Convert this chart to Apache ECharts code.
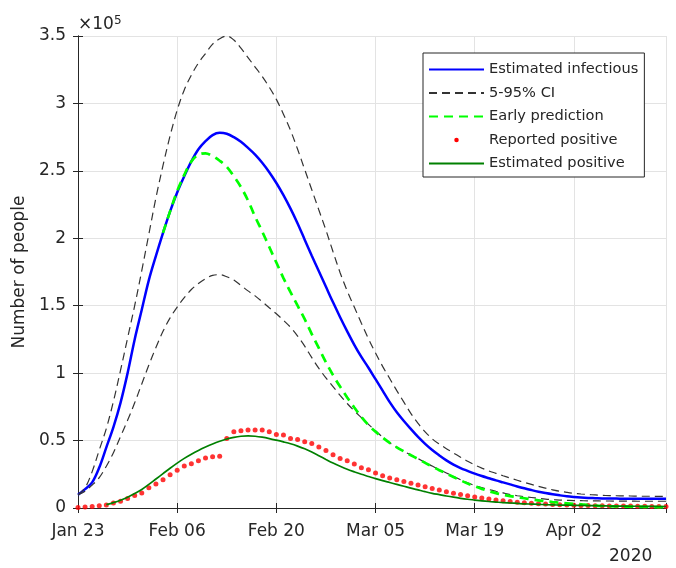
<!DOCTYPE html>
<html>
<head>
<meta charset="utf-8">
<script src="https://cdn.jsdelivr.net/npm/echarts@6/dist/echarts.min.js"></script>
<style>
  html, body { margin: 0; padding: 0; background: #fff; }
  #chart { width: 676px; height: 568px; }
</style>
</head>
<body>
<div id="chart"></div>
<script>
// Daily values from Jan 23, 2020 (day 0) to Apr 15, 2020 (day 83), in units of 1e5 people.
const tickLabels = ['Jan 23', 'Feb 06', 'Feb 20', 'Mar 05', 'Mar 19', 'Apr 02'];
const yearLabel = '2020';
const seriesNames = ['Estimated infectious', '5-95% CI', 'Early prediction', 'Reported positive', 'Estimated positive'];

const infectious = [
  0.098, 0.14, 0.19, 0.30, 0.45, 0.60, 0.78, 1.00, 1.25, 1.47,
  1.69, 1.87, 2.04, 2.20, 2.34, 2.46, 2.57, 2.66, 2.72, 2.765,
  2.782, 2.775, 2.75, 2.715, 2.67, 2.62, 2.56, 2.49, 2.41, 2.32,
  2.22, 2.11, 1.99, 1.87, 1.755, 1.64, 1.525, 1.415, 1.31, 1.21,
  1.12, 1.04, 0.955, 0.87, 0.785, 0.71, 0.645, 0.585, 0.527, 0.476,
  0.43, 0.39, 0.353, 0.322, 0.296, 0.275, 0.255, 0.237, 0.221, 0.205,
  0.19, 0.175, 0.16, 0.146, 0.133, 0.121, 0.111, 0.102, 0.094, 0.087,
  0.082, 0.078, 0.075, 0.073, 0.071, 0.070, 0.070, 0.069, 0.069, 0.069,
  0.069, 0.069, 0.069, 0.069
];

const ciUpper = [
  0.098, 0.15, 0.27, 0.43, 0.59, 0.79, 1.02, 1.26, 1.50, 1.76,
  2.03, 2.30, 2.54, 2.76, 2.95, 3.10, 3.21, 3.30, 3.37, 3.44,
  3.48, 3.50, 3.47, 3.41, 3.34, 3.27, 3.20, 3.12, 3.03, 2.92,
  2.80, 2.66, 2.51, 2.36, 2.21, 2.06, 1.90, 1.745, 1.61, 1.49,
  1.37, 1.255, 1.15, 1.05, 0.96, 0.87, 0.785, 0.70, 0.627, 0.565,
  0.513, 0.474, 0.44, 0.408, 0.377, 0.347, 0.32, 0.296, 0.275, 0.257,
  0.239, 0.222, 0.206, 0.19, 0.175, 0.16, 0.147, 0.135, 0.124, 0.116,
  0.109, 0.104, 0.10, 0.097, 0.094, 0.092, 0.091, 0.09, 0.089, 0.088,
  0.087, 0.087, 0.086, 0.086
];

const ciLower = [
  0.098, 0.125, 0.17, 0.225, 0.31, 0.41, 0.53, 0.65, 0.78, 0.92,
  1.06, 1.19, 1.31, 1.41, 1.49, 1.56, 1.62, 1.665, 1.70, 1.725,
  1.73, 1.715, 1.69, 1.65, 1.61, 1.573, 1.53, 1.485, 1.44, 1.392,
  1.34, 1.275, 1.20, 1.115, 1.035, 0.965, 0.90, 0.835, 0.775, 0.72,
  0.67, 0.62, 0.573, 0.525, 0.483, 0.45, 0.42, 0.393, 0.366, 0.339,
  0.311, 0.285, 0.26, 0.235, 0.21, 0.187, 0.167, 0.151, 0.137, 0.124,
  0.112, 0.10, 0.091, 0.084, 0.078, 0.072, 0.066, 0.062, 0.059, 0.057,
  0.055, 0.054, 0.053, 0.053, 0.052, 0.052, 0.051, 0.051, 0.051, 0.05,
  0.05, 0.05, 0.05, 0.05
];

// Early prediction begins on Feb 04 (day 12)
const earlyStart = 12;
const earlyPrediction = [
  2.04, 2.20, 2.35, 2.47, 2.57, 2.62, 2.63, 2.61, 2.575, 2.53,
  2.46, 2.38, 2.28, 2.16, 2.05, 1.935, 1.82, 1.705, 1.60, 1.50,
  1.40, 1.29, 1.185, 1.08, 0.985, 0.90, 0.82, 0.745, 0.675, 0.615,
  0.565, 0.522, 0.483, 0.45, 0.42, 0.391, 0.363, 0.335, 0.307, 0.28,
  0.255, 0.23, 0.205, 0.182, 0.161, 0.142, 0.125, 0.11, 0.098, 0.088,
  0.08, 0.072, 0.064, 0.057, 0.05, 0.044, 0.039, 0.035, 0.031, 0.027,
  0.022, 0.018, 0.015, 0.013, 0.012, 0.011, 0.01, 0.009, 0.008, 0.007,
  0.007, 0.006
];

const reportedPositive = [
  0.004, 0.007, 0.011, 0.016, 0.022, 0.038, 0.050, 0.071, 0.093, 0.111,
  0.150, 0.178, 0.210, 0.247, 0.279, 0.311, 0.328, 0.350, 0.370, 0.380,
  0.383, 0.516, 0.565, 0.573, 0.578, 0.578, 0.578, 0.565, 0.545, 0.541,
  0.516, 0.508, 0.491, 0.479, 0.452, 0.427, 0.395, 0.367, 0.350, 0.326,
  0.299, 0.284, 0.259, 0.240, 0.222, 0.210, 0.197, 0.183, 0.170, 0.157,
  0.145, 0.133, 0.121, 0.110, 0.100, 0.091, 0.082, 0.074, 0.067, 0.060,
  0.054, 0.048, 0.043, 0.039, 0.035, 0.032, 0.029, 0.026, 0.024, 0.022,
  0.020, 0.019, 0.018, 0.017, 0.016, 0.015, 0.015, 0.014, 0.014, 0.013,
  0.013, 0.012, 0.012, 0.011
];

// Estimated positive begins on Jan 27 (day 4)
const positiveStart = 4;
const estimatedPositive = [
  0.025, 0.040, 0.058, 0.080, 0.107, 0.137, 0.175, 0.215, 0.255, 0.295,
  0.333, 0.368, 0.399, 0.427, 0.452, 0.475, 0.495, 0.512, 0.524, 0.532,
  0.535, 0.532, 0.525, 0.515, 0.503, 0.490, 0.476, 0.459, 0.439, 0.415,
  0.388, 0.360, 0.333, 0.309, 0.287, 0.268, 0.250, 0.234, 0.218, 0.203,
  0.189, 0.175, 0.161, 0.147, 0.134, 0.121, 0.109, 0.099, 0.089, 0.080,
  0.072, 0.065, 0.059, 0.053, 0.048, 0.044, 0.040, 0.037, 0.034, 0.031,
  0.029, 0.027, 0.025, 0.023, 0.022, 0.021, 0.020, 0.019, 0.018, 0.017,
  0.016, 0.015, 0.014, 0.014, 0.013, 0.013, 0.012, 0.012, 0.011, 0.011
];

const lastDay = infectious.length - 1;
const toPairs = (values, start = 0) => values.map((v, i) => [start + i, v]);

const FONT = 'DejaVu Sans';
const INK = '#262626';
const GRID_LINE = '#e3e3e3';

const lineSeries = (name, values, start, color, width, dash) => ({
  name,
  type: 'line',
  data: toPairs(values, start),
  symbol: 'none',
  showSymbol: false,
  smooth: 0.35,
  clip: true,
  lineStyle: { color, width, type: dash || 'solid' },
  itemStyle: { color },
  emphasis: { disabled: true }
});

const boxAxis = {
  axisLine: { show: true, lineStyle: { color: INK, width: 1 } },
  axisTick: { show: true, inside: true, length: 5, lineStyle: { color: INK } },
  axisLabel: { show: false },
  splitLine: { show: false }
};

const chart = echarts.init(document.getElementById('chart'), null, { renderer: 'canvas' });

chart.setOption({
  animation: false,
  backgroundColor: '#fff',
  grid: { left: 78, right: 10, top: 36, bottom: 60, containLabel: false },
  xAxis: [
    {
      type: 'value', min: 0, max: lastDay, interval: 14, position: 'bottom',
      axisLine: { show: true, onZero: false, lineStyle: { color: INK, width: 1 } },
      axisTick: { show: true, inside: true, length: 5, lineStyle: { color: INK } },
      axisLabel: {
        show: true, margin: 15, fontFamily: FONT, fontSize: 17, color: INK,
        formatter: v => (v % 14 === 0 && tickLabels[v / 14]) ? tickLabels[v / 14] : ''
      },
      splitLine: { show: true, lineStyle: { color: GRID_LINE, width: 1 } }
    },
    Object.assign({ type: 'value', min: 0, max: lastDay, interval: 14, position: 'top' }, boxAxis)
  ],
  yAxis: [
    {
      type: 'value', min: 0, max: 3.5, interval: 0.5, position: 'left',
      name: 'Number of people', nameLocation: 'middle', nameGap: 40, nameRotate: 90,
      nameTextStyle: { fontFamily: FONT, fontSize: 17, color: INK },
      axisLine: { show: true, onZero: false, lineStyle: { color: INK, width: 1 } },
      axisTick: { show: true, inside: true, length: 5, lineStyle: { color: INK } },
      axisLabel: { show: true, margin: 12, fontFamily: FONT, fontSize: 17, color: INK },
      splitLine: { show: true, lineStyle: { color: GRID_LINE, width: 1 } }
    },
    Object.assign({ type: 'value', min: 0, max: 3.5, interval: 0.5, position: 'right' }, boxAxis)
  ],
  legend: {
    orient: 'vertical',
    left: 423, top: 53,
    padding: [9, 6, 6, 5],
    itemWidth: 55, itemHeight: 14, itemGap: 8.5,
    backgroundColor: '#fff',
    borderColor: INK, borderWidth: 1, borderRadius: 0,
    selectedMode: false,
    textStyle: { fontFamily: FONT, fontSize: 14.6, color: INK },
    itemStyle: { opacity: 0 },
    data: [
      { name: seriesNames[0] },
      { name: seriesNames[1] },
      { name: seriesNames[2] },
      {
        name: seriesNames[3],
        icon: 'path://M0,0M55,14M25.25,7a2.25,2.25,0,1,0,4.5,0a2.25,2.25,0,1,0,-4.5,0z',
        itemStyle: { opacity: 1, color: '#ff0000' }
      },
      { name: seriesNames[4] }
    ]
  },
  graphic: [
    {
      type: 'text', left: 78, top: 15, silent: true,
      style: {
        text: '×10{s|5}', fill: INK,
        font: '17px "DejaVu Sans"',
        rich: { s: { fontFamily: FONT, fontSize: 12, fill: INK, verticalAlign: 'top', padding: [0, 0, 8, 0] } }
      }
    },
    {
      type: 'text', left: 609, top: 548, silent: true,
      style: { text: yearLabel, fill: INK, font: '17px "DejaVu Sans"' }
    }
  ],
  series: [
    lineSeries(seriesNames[0], infectious, 0, '#0000ff', 2.5),
    lineSeries(seriesNames[1], ciUpper, 0, '#333333', 1.2, [8, 5]),
    lineSeries(seriesNames[1], ciLower, 0, '#333333', 1.2, [8, 5]),
    lineSeries(seriesNames[2], earlyPrediction, earlyStart, '#00ff00', 2.7, [9, 6]),
    {
      name: seriesNames[3],
      type: 'scatter',
      data: toPairs(reportedPositive),
      symbol: 'circle',
      symbolSize: 5,
      itemStyle: { color: '#ff0000' },
      emphasis: { disabled: true }
    },
    lineSeries(seriesNames[4], estimatedPositive, positiveStart, '#008000', 1.7)
  ]
});
</script>
</body>
</html>
